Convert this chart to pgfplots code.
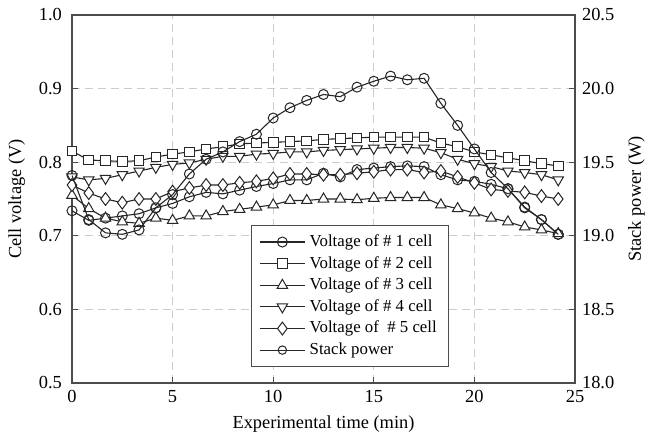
\documentclass[border=0pt]{standalone}
\usepackage{pgfplots}
\pgfplotsset{compat=1.18}
\usepackage{pgfplotstable}
\usepackage{fontspec}
\setmainfont{Liberation Serif}

\pgfplotstableread{
t v1 v2 v3 v4 v5 p
0.0000 0.734 0.815 0.755 0.780 0.769 19.41
0.8333 0.721 0.803 0.737 0.776 0.758 19.11
1.6667 0.724 0.802 0.724 0.778 0.750 19.02
2.5000 0.727 0.801 0.719 0.783 0.745 19.01
3.3333 0.730 0.802 0.717 0.788 0.750 19.04
4.1667 0.738 0.807 0.724 0.793 0.750 19.19
5.0000 0.744 0.811 0.721 0.797 0.760 19.28
5.8333 0.753 0.814 0.727 0.799 0.765 19.42
6.6667 0.759 0.818 0.727 0.804 0.769 19.52
7.5000 0.757 0.821 0.733 0.808 0.769 19.57
8.3333 0.762 0.825 0.736 0.808 0.772 19.64
9.1667 0.767 0.826 0.739 0.811 0.774 19.69
10.0000 0.771 0.827 0.742 0.812 0.778 19.80
10.8333 0.776 0.828 0.748 0.814 0.784 19.87
11.6667 0.776 0.829 0.748 0.814 0.784 19.92
12.5000 0.785 0.831 0.750 0.816 0.783 19.96
13.3333 0.780 0.832 0.750 0.817 0.783 19.945
14.1667 0.790 0.833 0.749 0.818 0.785 20.01
15.0000 0.792 0.834 0.751 0.819 0.787 20.05
15.8333 0.794 0.834 0.752 0.820 0.790 20.085
16.6667 0.795 0.834 0.752 0.820 0.790 20.06
17.5000 0.794 0.834 0.752 0.819 0.786 20.07
18.3333 0.783 0.826 0.742 0.813 0.788 19.90
19.1667 0.776 0.821 0.737 0.804 0.780 19.75
20.0000 0.774 0.814 0.731 0.798 0.772 19.59
20.8333 0.770 0.810 0.724 0.794 0.763 19.43
21.6667 0.764 0.806 0.719 0.788 0.761 19.32
22.5000 0.739 0.802 0.712 0.786 0.759 19.19
23.3333 0.722 0.798 0.708 0.783 0.754 19.11
24.1667 0.702 0.795 0.703 0.776 0.750 19.01
}\data

\pgfplotsset{
  common/.style={
    width=251.5pt, height=184pt, scale only axis,
    xmin=0, xmax=25,
    at={(0,0)}, anchor=south west,
    /pgf/number format/assume math mode=true,
    axis line style={black!70, line width=0.6pt},
    tick style={black!70, line width=0.5pt},
    tick align=inside,
    major tick length=3pt,
  },
  ser/.style={black!85, line width=0.55pt, mark options={fill=white, draw=black!85, line width=0.5pt, solid}},
}

\begin{document}
\begin{tikzpicture}[font=\fontsize{9.2}{11}\selectfont]
\path[use as bounding box] (-36pt,-31.5pt) rectangle (288pt,191.5pt);
\begin{axis}[common,
  ymin=0.5, ymax=1.0,
  ytick={0.5,0.6,0.7,0.8,0.9,1.0},
  xtick={0,5,10,15,20,25},
  xtick pos=bottom, ytick pos=left,
  yticklabel style={xshift=-1.5pt,/pgf/number format/fixed,/pgf/number format/fixed zerofill,/pgf/number format/precision=1},
  grid=major,
  major grid style={gray!40, line width=0.6pt, dash pattern=on 4pt off 2.5pt},
  xlabel={Experimental time (min)},
  ylabel={Cell voltage (V)},
  legend style={at={(0.355,0.429)}, anchor=north west, draw=black!70, line width=0.5pt,
    font=\fontsize{8.4}{10}\selectfont, cells={anchor=west}, row sep=-0.6pt, inner xsep=4pt, inner ysep=2.5pt},
  legend image code/.code={\draw[mark repeat=2,mark phase=2,#1] plot coordinates {(0cm,0cm) (0.4cm,0cm) (0.8cm,0cm)};},
]
\addplot[ser, mark=o, mark size=2.5pt] table[x=t,y=v1] {\data};
\addlegendentry{Voltage of \# 1 cell}
\addplot[ser, mark=square*, mark size=2.4pt] table[x=t,y=v2] {\data};
\addlegendentry{Voltage of \# 2 cell}
\addplot[ser, mark=triangle*, mark size=3pt] table[x=t,y=v3] {\data};
\addlegendentry{Voltage of \# 3 cell}
\addplot[ser, mark=triangle*, mark size=3pt, mark options={fill=white, draw=black!85, line width=0.5pt, solid, rotate=180}] table[x=t,y=v4] {\data};
\addlegendentry{Voltage of \# 4 cell}
\addplot[ser, mark=diamond*, mark size=3.2pt] table[x=t,y=v5] {\data};
\addlegendentry{Voltage of \ \# 5 cell}
\addlegendimage{ser, mark=o, mark size=2.1pt}
\addlegendentry{Stack power}
\end{axis}
\begin{axis}[common,
  axis x line=none, axis y line*=right,
  ymin=18, ymax=20.5,
  ytick={18,18.5,19,19.5,20,20.5},
  yticklabel style={/pgf/number format/fixed,/pgf/number format/fixed zerofill,/pgf/number format/precision=1},
  ylabel={Stack power (W)},
]
\addplot[ser, mark=o, mark size=2.5pt] table[x=t,y=p] {\data};
\end{axis}
\end{tikzpicture}
\end{document}
